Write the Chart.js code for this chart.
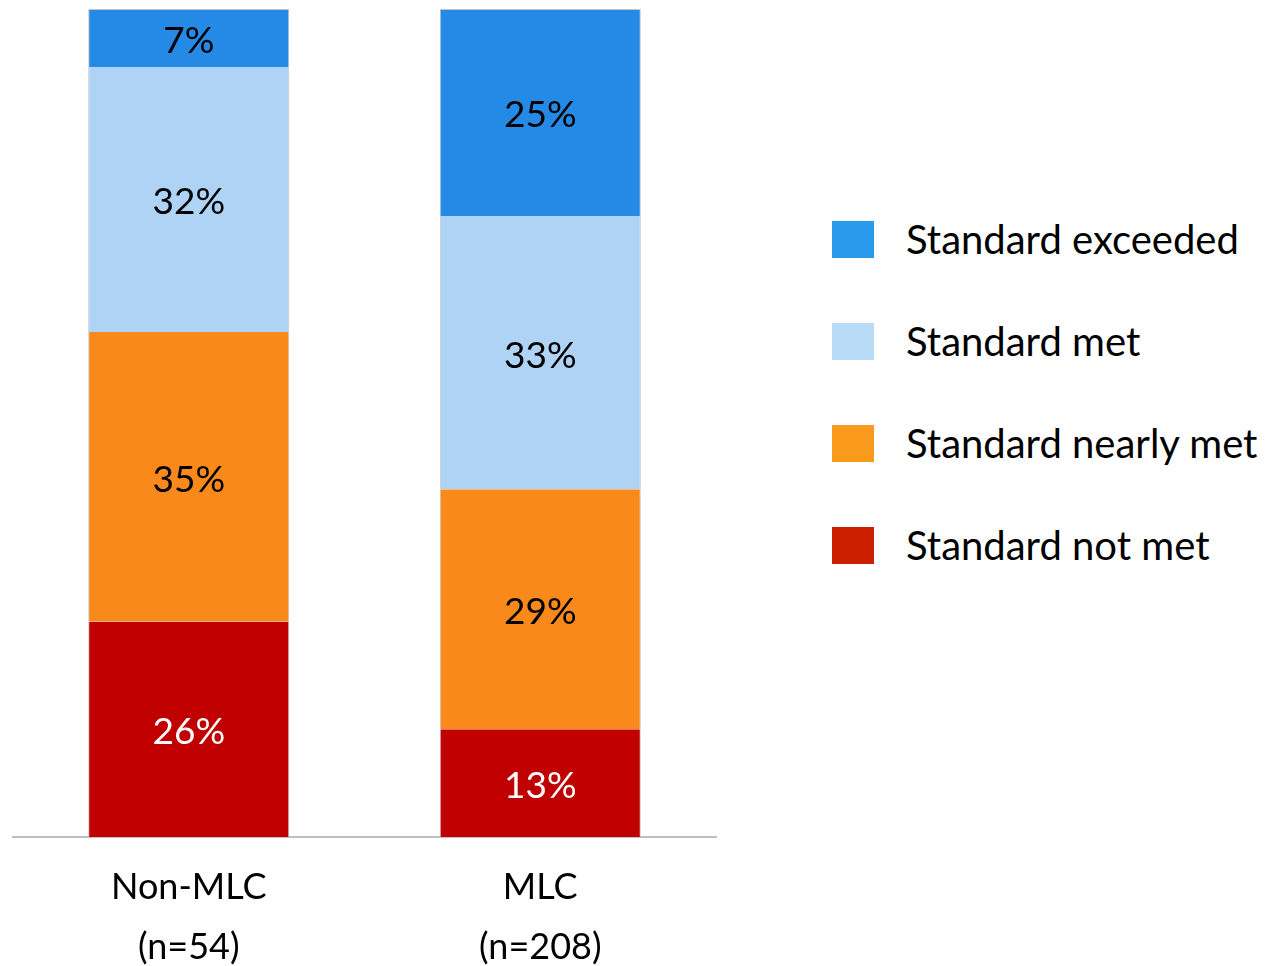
<!DOCTYPE html>
<html>
<head>
<meta charset="utf-8">
<script src="https://cdn.jsdelivr.net/npm/chart.js@4/dist/chart.umd.min.js"></script>
<style>
  html, body { margin: 0; padding: 0; background: #ffffff; }
  body { width: 1266px; height: 966px; position: relative; overflow: hidden; font-family: Lato, "Open Sans", sans-serif; }
  #wrap { position: absolute; left: 0; top: 0; width: 730px; height: 966px; }
  #legend { position: absolute; left: 832px; top: 221px; }
  .row { display: flex; align-items: center; height: 37px; margin-bottom: 65px; }
  .box { width: 42px; height: 37px; margin-right: 32px; }
  .txt { font-size: 40px; color: #000; white-space: nowrap; line-height: 37px; }
</style>
</head>
<body>
<div id="wrap"><canvas id="c"></canvas></div>
<div id="legend"></div>
<script>
// Categories (two-line axis labels)
const categories = [['Non-MLC', '(n=54)'], ['MLC', '(n=208)']];

// Series names, bottom of the stack first
const seriesNames = ['Standard not met', 'Standard nearly met', 'Standard met', 'Standard exceeded'];

// Percentages per category
const notMet = [26, 13];
const nearlyMet = [35, 29];
const met = [32, 33];
const exceeded = [7, 25];

const barColors = ['#C00000', '#F8891A', '#AED3F5', '#2589E6'];
const legendColors = ['#CC1F00', '#F99A1C', '#B8DBF7', '#289BEC'];
const labelColors = ['#ffffff', '#000000', '#000000', '#000000'];
const seriesValues = [notMet, nearlyMet, met, exceeded];

const datasets = seriesValues.map((vals, i) => ({
  label: seriesNames[i],
  data: vals,
  backgroundColor: barColors[i],
  borderColor: '#C4C4C4',
  borderWidth: { left: 1, right: 1, top: i === 3 ? 1 : 0, bottom: 0 },
  borderSkipped: false,
  categoryPercentage: 1,
  barPercentage: 0.572
}));

// Percent labels centred in each segment
const segmentLabels = {
  id: 'segmentLabels',
  afterDatasetsDraw(chart) {
    const ctx = chart.ctx;
    ctx.save();
    ctx.font = '37px Lato, "Open Sans", sans-serif';
    ctx.textAlign = 'center';
    ctx.textBaseline = 'middle';
    chart.data.datasets.forEach((ds, di) => {
      const meta = chart.getDatasetMeta(di);
      meta.data.forEach((el, idx) => {
        const y = (el.y + el.base) / 2;
        ctx.fillStyle = labelColors[di];
        ctx.fillText(ds.data[idx] + '%', el.x, y + 3);
      });
    });
    ctx.restore();
  }
};

new Chart(document.getElementById('c'), {
  type: 'bar',
  data: { labels: categories, datasets },
  plugins: [segmentLabels],
  options: {
    responsive: true,
    maintainAspectRatio: false,
    animation: false,
    layout: { padding: { top: 9, left: 13, right: 14, bottom: 0 } },
    plugins: { legend: { display: false }, tooltip: { enabled: false } },
    scales: {
      x: {
        stacked: true,
        grid: { display: false, drawTicks: false },
        border: { display: true, color: '#BFBFBF', width: 2 },
        ticks: {
          color: '#000',
          padding: 20,
          font: { family: 'Lato, "Open Sans", sans-serif', size: 36, lineHeight: 60 / 36 }
        },
        afterFit(scale) { scale.height = 129; }
      },
      y: {
        stacked: true,
        display: false,
        min: 0,
        max: 100
      }
    }
  }
});

// Legend, top entry first
const legend = document.getElementById('legend');
for (let i = seriesNames.length - 1; i >= 0; i--) {
  const row = document.createElement('div');
  row.className = 'row';
  const box = document.createElement('div');
  box.className = 'box';
  box.style.background = legendColors[i];
  const txt = document.createElement('div');
  txt.className = 'txt';
  txt.textContent = seriesNames[i];
  row.appendChild(box);
  row.appendChild(txt);
  legend.appendChild(row);
}
</script>
</body>
</html>
